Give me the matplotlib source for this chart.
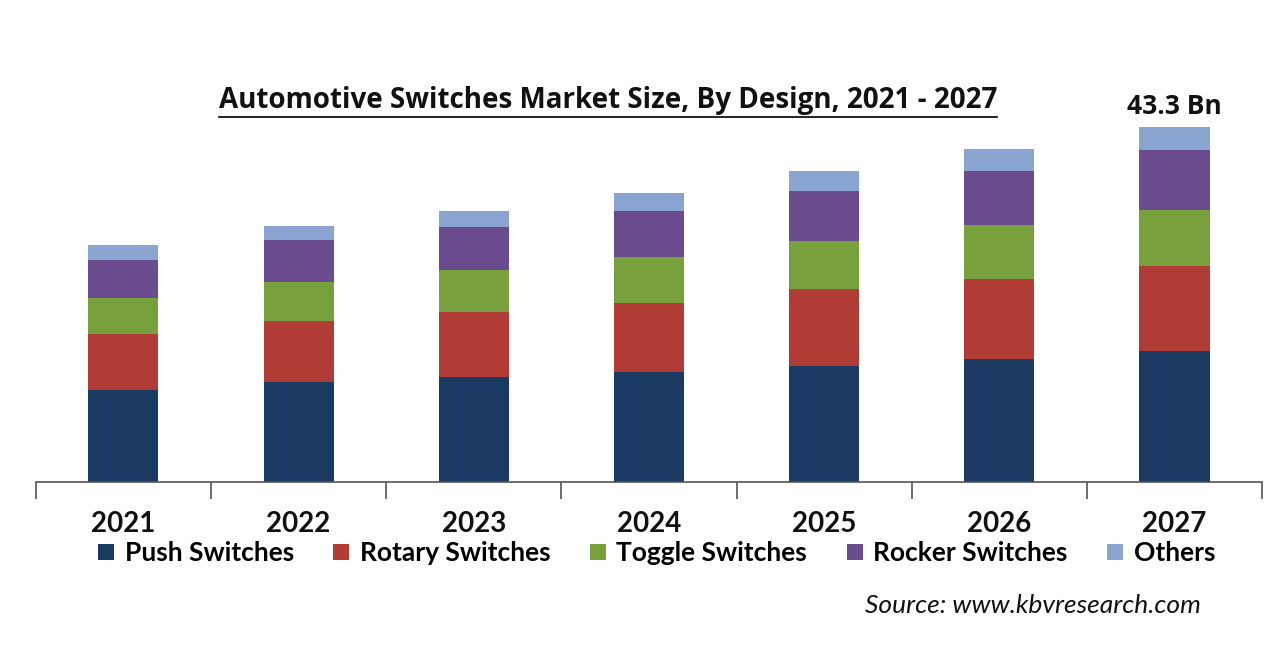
import numpy as np
import matplotlib.pyplot as plt
from matplotlib.lines import Line2D

years = ["2021", "2022", "2023", "2024", "2025", "2026", "2027"]
push = [11.2, 12.2, 12.8, 13.4, 14.2, 15.0, 16.0]
rotary = [6.8, 7.4, 7.9, 8.5, 9.3, 9.8, 10.4]
toggle = [4.5, 4.8, 5.2, 5.5, 5.9, 6.5, 6.8]
rocker = [4.6, 5.1, 5.2, 5.7, 6.1, 6.6, 7.3]
others = [1.8, 1.7, 2.0, 2.2, 2.4, 2.7, 2.8]
series_names = ["Push Switches", "Rotary Switches", "Toggle Switches", "Rocker Switches", "Others"]
colors = ["#1b3a62", "#b03c35", "#78a03c", "#6a4c8e", "#8aa6d0"]

plt.rcParams["font.family"] = ["Lato", "DejaVu Sans"]

fig = plt.figure(figsize=(12.8, 6.7), dpi=100)
ax = fig.add_axes([0.028, 0.2806, 0.958, 0.57])

x = np.arange(len(years))
bottom = np.zeros(len(years))
handles = []
for name, vals, c in zip(series_names, [push, rotary, toggle, rocker, others], colors):
    b = ax.bar(x, vals, width=0.4, bottom=bottom, color=c, label=name)
    handles.append(b)
    bottom += np.array(vals)

ax.set_xlim(-0.5, 6.5)
ax.set_ylim(0, 46.6)
ax.set_yticks([])
for s in ["top", "right", "left"]:
    ax.spines[s].set_visible(False)
ax.spines["bottom"].set_color("#555555")
ax.spines["bottom"].set_linewidth(1.2)

# ticks on category boundaries, labels centred under bars
ax.set_xticks(np.arange(-0.5, 7, 1))
ax.set_xticklabels([])
ax.tick_params(axis="x", direction="out", length=12, width=1.2, color="#555555")
for i, yr in enumerate(years):
    ax.text(i, -0.075, yr, transform=ax.get_xaxis_transform(), ha="center", va="top",
            fontsize=20, fontweight="bold", color="#111111")

ax.text(6, bottom[-1] + 0.9, f"{bottom[-1]:.1f} Bn", ha="center", va="bottom",
        fontsize=19, fontweight="bold", color="#111111", family="Open Sans")

title = fig.text(0.475, 0.828, "Automotive Switches Market Size, By Design, 2021 - 2027",
                 ha="center", va="bottom", fontsize=20, fontweight="bold", color="#111111",
                 family="Open Sans")

fig.legend(handles=handles, labels=series_names, loc="center", bbox_to_anchor=(0.513, 0.174),
           ncol=5, frameon=False, handlelength=0.6, handleheight=0.6,
           handletextpad=0.4, columnspacing=1.5, prop={"weight": "bold", "size": 19})

fig.text(0.938, 0.097, "Source: www.kbvresearch.com", ha="right", va="center",
         fontsize=19, style="italic", color="#111111")

# underline the title
fig.canvas.draw()
bb = title.get_window_extent().transformed(fig.transFigure.inverted())
fig.add_artist(Line2D([bb.x0, bb.x1], [bb.y0 - 0.002, bb.y0 - 0.002], transform=fig.transFigure,
                      color="#111111", lw=1.3))

fig.savefig("out.png", dpi=100)
